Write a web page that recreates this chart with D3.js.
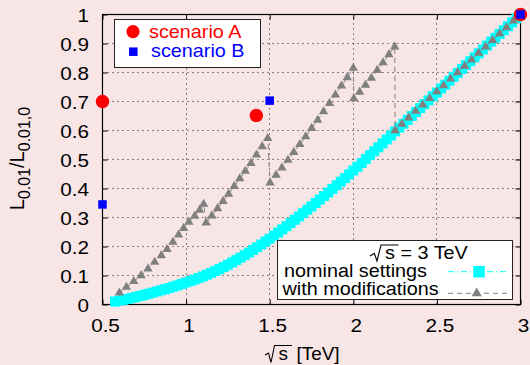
<!DOCTYPE html>
<html><head><meta charset="utf-8">
<script src="https://cdn.jsdelivr.net/npm/d3@7"></script>
<style>body{margin:0;background:#f8e6e6}svg{display:block}</style>
</head><body>
<svg id="c" width="530" height="365"></svg>
<script>
// ---------- data ----------
const xTicks = [0.5, 1, 1.5, 2, 2.5, 3];
const xTickLabels = ["0.5", "1", "1.5", "2", "2.5", "3"];
const yTicks = [0, 0.1, 0.2, 0.3, 0.4, 0.5, 0.6, 0.7, 0.8, 0.9, 1];
const yTickLabels = ["0", "0.1", "0.2", "0.3", "0.4", "0.5", "0.6", "0.7", "0.8", "0.9", "1"];

const scenarioAX = [0.5, 1.42, 3.0];
const scenarioAY = [0.70, 0.652, 1.0];
const scenarioBX = [0.5, 1.5, 3.0];
const scenarioBY = [0.345, 0.703, 1.0];

const nominalX = [0.575,0.6,0.625,0.65,0.675,0.7,0.725,0.75,0.775,0.8,0.825,0.85,0.875,0.9,0.925,0.95,0.975,1,1.025,1.05,1.075,1.1,1.125,1.15,1.175,1.2,1.225,1.25,1.275,1.3,1.325,1.35,1.375,1.4,1.425,1.45,1.475,1.5,1.525,1.55,1.575,1.6,1.625,1.65,1.675,1.7,1.725,1.75,1.775,1.8,1.825,1.85,1.875,1.9,1.925,1.95,1.975,2,2.025,2.05,2.075,2.1,2.125,2.15,2.175,2.2,2.225,2.25,2.275,2.3,2.325,2.35,2.375,2.4,2.425,2.45,2.475,2.5,2.525,2.55,2.575,2.6,2.625,2.65,2.675,2.7,2.725,2.75,2.775,2.8,2.825,2.85,2.875,2.9,2.925,2.95,2.975,3];
const nominalY = [0.010,0.013,0.016,0.019,0.0225,0.026,0.0295,0.033,0.037,0.041,0.045,0.049,0.053,0.057,0.0615,0.066,0.071,0.076,0.081,0.086,0.0915,0.097,0.103,0.109,0.1155,0.122,0.1295,0.137,0.145,0.153,0.1615,0.170,0.179,0.188,0.1975,0.207,0.217,0.227,0.2375,0.248,0.259,0.270,0.281,0.292,0.3035,0.315,0.3265,0.338,0.350,0.362,0.374,0.386,0.3985,0.411,0.4235,0.436,0.449,0.462,0.475,0.488,0.5015,0.515,0.5285,0.542,0.5555,0.569,0.5825,0.597,0.610,0.623,0.637,0.650,0.664,0.677,0.691,0.704,0.718,0.731,0.745,0.758,0.7715,0.785,0.7985,0.812,0.8255,0.839,0.8525,0.866,0.8795,0.893,0.9065,0.920,0.933,0.946,0.9595,0.973,0.9865,1.000];

const modifiedX = [0.601,0.643,0.687,0.731,0.772,0.812,0.852,0.886,0.921,0.955,0.985,1.017,1.051,1.081,1.105,
  1.120,1.154,1.188,1.221,1.254,1.288,1.321,1.354,1.388,1.421,1.455,1.488,
  1.502,1.538,1.573,1.609,1.644,1.680,1.715,1.751,1.787,1.822,1.858,1.893,1.929,1.964,2.000,
  2.003,2.038,2.073,2.108,2.143,2.178,2.213,2.248,
  2.250,2.290,2.331,2.373,2.415,2.457,2.499,2.540,2.582,2.624,2.666,2.707,2.749,2.791,2.833,2.875,2.916,2.958,3.000];
const modifiedY = [0.040,0.060,0.080,0.100,0.123,0.146,0.169,0.190,0.215,0.240,0.263,0.284,0.305,0.326,0.346,
  0.282,0.306,0.331,0.356,0.381,0.408,0.434,0.460,0.487,0.516,0.545,0.573,
  0.420,0.446,0.471,0.498,0.525,0.552,0.579,0.608,0.636,0.665,0.694,0.723,0.754,0.783,0.815,
  0.710,0.733,0.757,0.781,0.808,0.834,0.862,0.889,
  0.600,0.622,0.644,0.667,0.689,0.711,0.734,0.755,0.778,0.800,0.822,0.844,0.867,0.889,0.911,0.934,0.955,0.978,1.000];

const legend1Labels = ["scenario A", "scenario B"];
const legend2Title = "= 3 TeV";
const legend2Labels = ["nominal settings", "with modifications"];
const xTitle = "[TeV]";

// ---------- drawing ----------
const W = 530, H = 365;
const FONT = "'Liberation Sans', Arial, Helvetica, sans-serif";
const BG = "#f8e6e6";
const svg = d3.select("#c");
svg.append("rect").attr("width", W).attr("height", H).attr("fill", BG);

const x = d3.scaleLinear().domain([0.5, 3]).range([102.5, 520.5]);
const y = d3.scaleLinear().domain([0, 1]).range([304.5, 14.5]);
const px = v => Math.round(x(v) - 0.5) + 0.5;
const py = v => Math.round(y(v) - 0.5) + 0.5;

function stext(parent, tx, ty, str, o) {
  o = o || {};
  const g = parent.append("g").attr("transform", `translate(${tx},${ty}) scale(${o.sx || 1.1},1)`);
  return g.append("text").text(str)
    .attr("font-family", FONT).attr("font-size", o.size || 18)
    .attr("fill", o.fill || "#000").attr("text-anchor", o.anchor || "start");
}

// grid
const grid = svg.append("g").attr("stroke", "#1a1a1a").attr("stroke-width", 1).attr("stroke-dasharray", "1,4");
grid.selectAll(".gx").data(xTicks.slice(1, -1)).join("line")
  .attr("x1", d => px(d)).attr("x2", d => px(d)).attr("y1", y(0)).attr("y2", y(1));
grid.selectAll(".gy").data(yTicks.slice(1, -1)).join("line")
  .attr("y1", d => py(d)).attr("y2", d => py(d)).attr("x1", x(0.5)).attr("x2", x(3));

// axes (ticks inward, mirrored)
function styleAxis(g) {
  g.attr("font-family", FONT).attr("font-size", 18).attr("color", "#000");
  g.select(".domain").remove();
}
const gB = svg.append("g").attr("transform", `translate(0,${y(0)})`)
  .call(d3.axisBottom(x).tickValues(xTicks).tickFormat((d, i) => xTickLabels[i]).tickSizeInner(-5).tickSizeOuter(0));
styleAxis(gB);
gB.selectAll(".tick text").attr("y", 0).attr("dy", 0).attr("x", 0)
  .attr("transform", "translate(2.5,27.5) scale(1.15,1)");
const gL = svg.append("g").attr("transform", `translate(${x(0.5)},0)`)
  .call(d3.axisLeft(y).tickValues(yTicks).tickFormat((d, i) => yTickLabels[i]).tickSizeInner(-5).tickSizeOuter(0));
styleAxis(gL);
gL.selectAll(".tick text").attr("x", 0).attr("dy", 0)
  .attr("transform", "translate(-13.5,7) scale(1.15,1)");
const gT = svg.append("g").attr("transform", `translate(0,${y(1)})`)
  .call(d3.axisTop(x).tickValues(xTicks).tickFormat("").tickSizeInner(-5).tickSizeOuter(0));
styleAxis(gT);
const gR = svg.append("g").attr("transform", `translate(${x(3)},0)`)
  .call(d3.axisRight(y).tickValues(yTicks).tickFormat("").tickSizeInner(-5).tickSizeOuter(0));
styleAxis(gR);

// frame
svg.append("rect").attr("x", x(0.5)).attr("y", y(1)).attr("width", x(3) - x(0.5)).attr("height", y(0) - y(1))
  .attr("fill", "none").attr("stroke", "#000").attr("stroke-width", 1.2);

// nominal (cyan squares)
const nominal = nominalX.map((v, i) => [v, nominalY[i]]);
svg.append("path").datum(nominal).attr("fill", "none").attr("stroke", "#00ffff").attr("stroke-width", 1)
  .attr("stroke-dasharray", "6,3,1,3").attr("d", d3.line().x(d => x(d[0])).y(d => y(d[1])));
const SQ = 10;
svg.append("g").attr("fill", "#00ffff").selectAll("rect").data(nominal).join("rect")
  .attr("x", d => x(d[0]) - SQ / 2).attr("y", d => y(d[1]) - SQ / 2).attr("width", SQ).attr("height", SQ);

// modified (gray triangles)
const modified = modifiedX.map((v, i) => [v, modifiedY[i]]);
svg.append("path").datum(modified).attr("fill", "none").attr("stroke", "#808080").attr("stroke-width", 1)
  .attr("stroke-dasharray", "5,4").attr("d", d3.line().x(d => x(d[0])).y(d => y(d[1])));
const tri = d3.symbol().type(d3.symbolTriangle).size(38);
svg.append("g").attr("fill", "#808080").selectAll("path").data(modified).join("path")
  .attr("transform", d => `translate(${x(d[0])},${y(d[1])})`).attr("d", tri);

// scenarios
const scenA = scenarioAX.map((v, i) => [v, scenarioAY[i]]);
const scenB = scenarioBX.map((v, i) => [v, scenarioBY[i]]);
svg.append("g").attr("fill", "#ff0000").selectAll("circle").data(scenA).join("circle")
  .attr("cx", d => x(d[0])).attr("cy", d => y(d[1])).attr("r", 6.7);
const BS = 8.5;
svg.append("g").attr("fill", "#0000ff").selectAll("rect").data(scenB).join("rect")
  .attr("x", d => x(d[0]) - BS / 2).attr("y", d => y(d[1]) - BS / 2).attr("width", BS).attr("height", BS);

// legend 1
svg.append("rect").attr("x", 114.5).attr("y", 19.5).attr("width", 146).attr("height", 48)
  .attr("fill", "#fff").attr("stroke", "#222").attr("stroke-width", 1);
svg.append("circle").attr("cx", 133).attr("cy", 31.7).attr("r", 6.6).attr("fill", "#ff0000");
stext(svg, 149, 37.5, legend1Labels[0], { fill: "#ff0000", sx: 1.1 });
svg.append("rect").attr("x", 133.3 - BS / 2).attr("y", 51.7 - BS / 2).attr("width", BS).attr("height", BS).attr("fill", "#0000ff");
stext(svg, 151, 56.7, legend1Labels[1], { fill: "#0000ff", sx: 1.1 });

// legend 2
svg.append("rect").attr("x", 277.5).attr("y", 240.5).attr("width", 235).attr("height", 59)
  .attr("fill", "#fff").attr("stroke", "#222").attr("stroke-width", 1);
svg.append("path").attr("d", "M370,256 L374.3,253.3 L377,261 L381,245 L398.5,245")
  .attr("fill", "none").attr("stroke", "#000").attr("stroke-width", 1.1);
stext(svg, 385, 259, "s", { sx: 1.1 });
stext(svg, 400.5, 259, legend2Title, { sx: 1.1 });
stext(svg, 284, 277, legend2Labels[0], { sx: 1.1 });
stext(svg, 282.5, 295, legend2Labels[1], { sx: 1.1 });
svg.append("line").attr("x1", 448).attr("x2", 507).attr("y1", 271.7).attr("y2", 271.7)
  .attr("stroke", "#00ffff").attr("stroke-width", 1).attr("stroke-dasharray", "6,3,1,3");
svg.append("rect").attr("x", 479 - 5.75).attr("y", 271.7 - 5.75).attr("width", 11.5).attr("height", 11.5).attr("fill", "#00ffff");
svg.append("line").attr("x1", 448).attr("x2", 507).attr("y1", 293.3).attr("y2", 293.3)
  .attr("stroke", "#808080").attr("stroke-width", 1).attr("stroke-dasharray", "5,4");
svg.append("path").attr("transform", "translate(476.7,293.3)").attr("d", d3.symbol().type(d3.symbolTriangle).size(45)()).attr("fill", "#808080");

// x title
svg.append("path").attr("d", "M265,355 L268.5,353 L271,362.5 L274.5,345.5 L292,345.5")
  .attr("fill", "none").attr("stroke", "#000").attr("stroke-width", 1.1);
stext(svg, 278.5, 360, "s", { sx: 1.05 });
stext(svg, 296.5, 360, xTitle, { sx: 1.05 });

// y title
const yt = svg.append("g").attr("transform", "translate(23.5,158.5) rotate(-90)")
  .append("text").attr("font-family", FONT).attr("font-size", 20).attr("text-anchor", "middle");
yt.append("tspan").text("L");
yt.append("tspan").text("0.01").attr("font-size", 16).attr("dy", 6);
yt.append("tspan").text("/L").attr("dy", -6);
yt.append("tspan").text("0.01,0").attr("font-size", 16).attr("dy", 6);
</script>
</body></html>
